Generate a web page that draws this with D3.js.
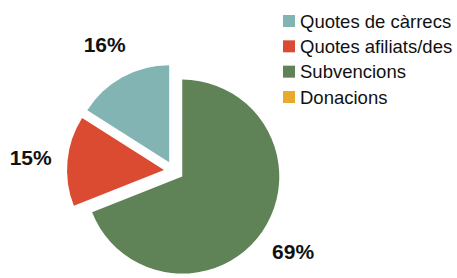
<!DOCTYPE html>
<html>
<head>
<meta charset="utf-8">
<script src="https://cdn.jsdelivr.net/npm/d3@7"></script>
<style>
  body { margin: 0; background: #fff; }
  svg { display: block; font-family: "Liberation Sans", Arial, sans-serif; }
</style>
</head>
<body>
<svg id="chart"></svg>
<script>
// Data
const categories = ["Quotes de càrrecs", "Quotes afiliats/des", "Subvencions", "Donacions"];
const values = [16, 15, 69, 0];
const colors = ["#82b4b4", "#db4b32", "#5f8257", "#e8aa2c"];

// Dimensions
const width = 457;
const height = 278;
const cx = 174;
const cy = 171;
const radius = 97;
const explode = 10;
const labelRadius = 144;

const svg = d3.select("#chart").attr("width", width).attr("height", height);

const color = d3.scaleOrdinal().domain(categories).range(colors);

// counter-clockwise from 12 o'clock, like the original
const pie = d3.pie().sort(null).startAngle(0).endAngle(-2 * Math.PI);
const arcs = pie(values).map((d, i) => ({ ...d, name: categories[i] }));

const arc = d3.arc().innerRadius(0).outerRadius(radius);

const total = d3.sum(values);
const mid = (d) => (d.startAngle + d.endAngle) / 2;

const g = svg.append("g").attr("transform", `translate(${cx},${cy})`);

g.selectAll("path.slice")
  .data(arcs.filter((d) => d.value > 0))
  .enter()
  .append("path")
  .attr("class", "slice")
  .attr("d", arc)
  .attr("fill", (d) => color(d.name))
  .attr("transform", (d) => {
    const a = mid(d);
    return `translate(${Math.sin(a) * explode},${-Math.cos(a) * explode})`;
  });

// Percentage labels
g.selectAll("text.pct")
  .data(arcs.filter((d) => d.value > 0))
  .enter()
  .append("text")
  .attr("class", "pct")
  .attr("x", (d) => Math.sin(mid(d)) * labelRadius)
  .attr("y", (d) => -Math.cos(mid(d)) * labelRadius)
  .attr("text-anchor", "middle")
  .attr("dominant-baseline", "central")
  .attr("font-size", 21)
  .attr("font-weight", "bold")
  .attr("fill", "#111")
  .text((d) => Math.round((d.value / total) * 100) + "%");

// Legend
const legend = svg.append("g").attr("transform", "translate(283,15)");
const rowY = d3.scalePoint().domain(categories).range([0, 76]);

const items = legend.selectAll("g.item")
  .data(categories)
  .enter()
  .append("g")
  .attr("class", "item")
  .attr("transform", (d) => `translate(0,${rowY(d)})`);

items.append("rect")
  .attr("width", 12)
  .attr("height", 12)
  .attr("fill", (d) => color(d));

items.append("text")
  .attr("x", 17)
  .attr("y", 6)
  .attr("dominant-baseline", "central")
  .attr("font-size", 18.5)
  .attr("fill", "#111")
  .text((d) => d);
</script>
</body>
</html>
